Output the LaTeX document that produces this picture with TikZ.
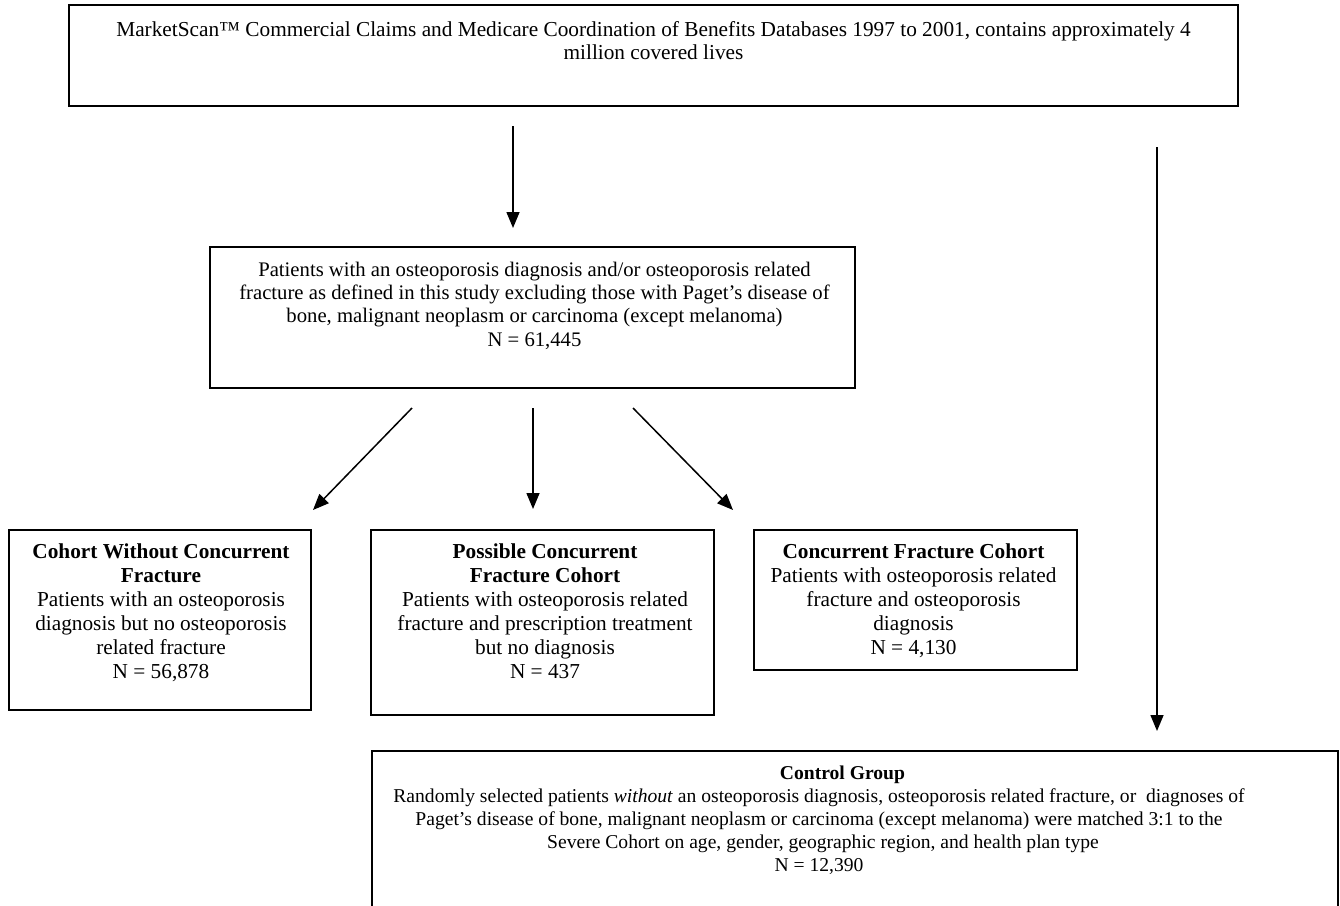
\documentclass[tikz,border=0pt]{standalone}
\usepackage{fontspec}
\setmainfont{Liberation Serif}
\usetikzlibrary{arrows.meta}
\begin{document}
\begin{tikzpicture}[x=1pt,y=-1pt,
  box/.style={draw, line width=2pt, rectangle, inner sep=0pt},
  txt/.style={align=center, font=\fontsize{21.3}{23.2}\selectfont, inner sep=0pt, anchor=north},
  txtb/.style={txt, font=\fontsize{21.3}{24}\selectfont},
  txtm/.style={txt, font=\fontsize{20.7}{23.2}\selectfont},
  txtc/.style={txt, font=\fontsize{19.6}{23}\selectfont},
  arr/.style={line width=1.5pt, -{Triangle[length=16pt,width=13pt]}}]
\fill[white] (0,0) rectangle (1340,905);
\useasboundingbox (0,0) rectangle (1340,905);
\clip (0,0) rectangle (1340,905);

% boxes
\node[box, minimum width=1169pt, minimum height=101pt] (src) at (653.5,55.5) {};
\node[box, minimum width=645pt, minimum height=141pt] (pop) at (532.5,317.5) {};
\node[box, minimum width=302pt, minimum height=180pt] (noc) at (160,620) {};
\node[box, minimum width=343pt, minimum height=185pt] (pos) at (542.5,622.5) {};
\node[box, minimum width=323pt, minimum height=140pt] (con) at (915.5,600) {};
\node[box, minimum width=966pt, minimum height=164pt] (ctl) at (855,833) {};

% texts
\node[txt] (srct) at (653.5,21) {MarketScan™ Commercial Claims and Medicare Coordination of Benefits Databases 1997 to 2001, contains approximately 4\\ million covered lives};
\node[txtm] (popt) at (534.5,262) {Patients with an osteoporosis diagnosis and/or osteoporosis related\\ fracture as defined in this study excluding those with Paget’s disease of\\ bone, malignant neoplasm or carcinoma (except melanoma)\\ N = 61,445};
\node[txtb] (noct) at (161,544) {\textbf{Cohort Without Concurrent}\\ \textbf{Fracture}\\ Patients with an osteoporosis\\ diagnosis but no osteoporosis\\ related fracture\\ N = 56,878};
\node[txtb] (post) at (545,544) {\textbf{Possible Concurrent}\\ \textbf{Fracture Cohort}\\ Patients with osteoporosis related\\ fracture and prescription treatment\\ but no diagnosis\\ N = 437};
\node[txtb] (cont) at (913.5,544) {\textbf{Concurrent Fracture Cohort}\\ Patients with osteoporosis related\\ fracture and osteoporosis\\ diagnosis\\ N = 4,130};
\node[txtc] (ctlt) at (819,766) {\hspace*{47pt}\textbf{Control Group}\\ Randomly selected patients \textit{without} an osteoporosis diagnosis, osteoporosis related fracture, or\ \ diagnoses of\\ Paget’s disease of bone, malignant neoplasm or carcinoma (except melanoma) were matched 3:1 to the\\ \hspace*{8pt}Severe Cohort on age, gender, geographic region, and health plan type\\ N = 12,390};

% connector endpoints
\coordinate (a1s) at (513,126);  \coordinate (a1e) at (513,228);
\coordinate (a2s) at (1157,147); \coordinate (a2e) at (1157,731);
\coordinate (a3s) at (412,408);  \coordinate (a3e) at (313,510);
\coordinate (a4s) at (533,408);  \coordinate (a4e) at (533,509);
\coordinate (a5s) at (633,408);  \coordinate (a5e) at (733,510);

\draw[arr] (a1s) -- (a1e);
\draw[arr] (a2s) -- (a2e);
\draw[arr] (a3s) -- (a3e);
\draw[arr] (a4s) -- (a4e);
\draw[arr] (a5s) -- (a5e);
\end{tikzpicture}
\end{document}
